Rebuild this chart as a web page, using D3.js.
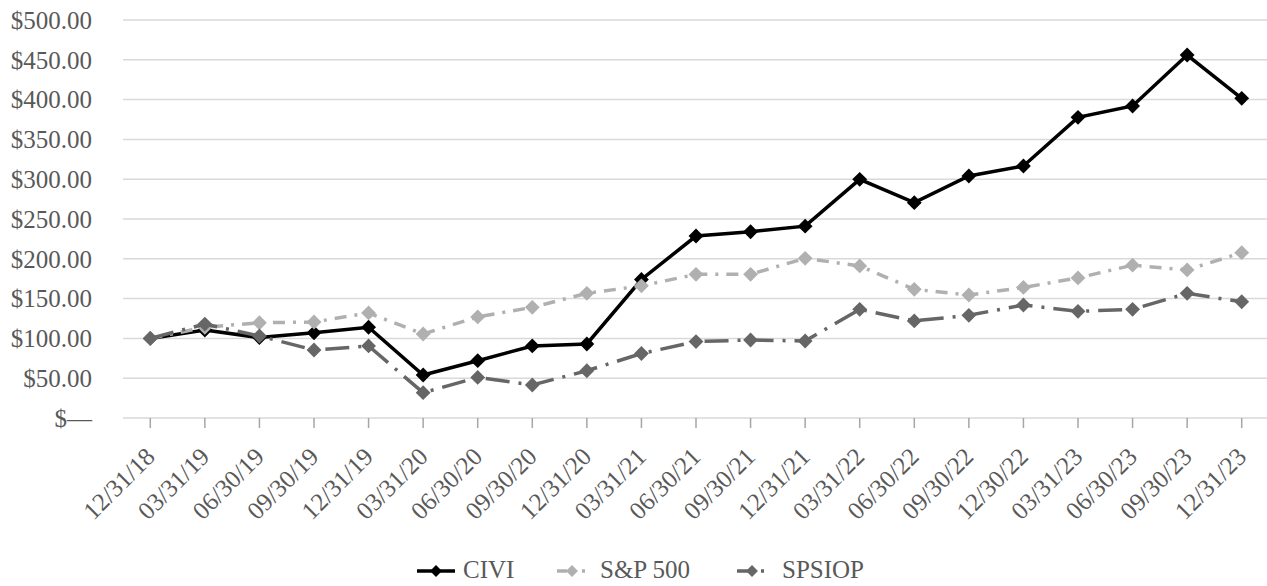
<!DOCTYPE html>
<html>
    <head>
        <meta charset="utf-8">
        <script src="https://d3js.org/d3.v7.min.js"></script>
        <title>CIVI total return</title>
    </head>
    <body>
        <div id="my_dataviz"></div>
    </body>
    <style>
        body {
            margin: 0;
            background: #fff;
            font-family: "Liberation Serif", "Times New Roman", serif;
        }
    </style>
    <script>
        // quarter-end dates on the x axis
        var dates = ["12/31/18", "03/31/19", "06/30/19", "09/30/19", "12/31/19", "03/31/20",
                     "06/30/20", "09/30/20", "12/31/20", "03/31/21", "06/30/21", "09/30/21",
                     "12/31/21", "03/31/22", "06/30/22", "09/30/22", "12/30/22", "03/31/23",
                     "06/30/23", "09/30/23", "12/31/23"];

        // values of $100 invested
        var civi   = [100, 110.5, 101, 107, 114, 54, 72, 90.5, 93, 174, 228.6, 234, 241, 299.8,
                      270.5, 304, 316.6, 377.7, 392, 456, 401.6];
        var sp500  = [100, 114, 119.7, 120.6, 132, 105.5, 127, 139, 156.6, 166, 180.5, 180.5,
                      200.6, 191, 161.7, 154.5, 164, 176, 192, 186, 207.7];
        var spsiop = [100, 118, 103, 85.4, 90.5, 31.8, 51, 41.5, 59.4, 81, 96, 98, 96.7, 136.5,
                      122, 129, 142, 134, 136.5, 156.6, 146];

        var seriesNames = ["CIVI", "S&P 500", "SPSIOP"];
        var yTicks = [0, 50, 100, 150, 200, 250, 300, 350, 400, 450, 500];

        var series = [
            {name: seriesNames[0], values: civi,   color: "#000000", dash: null,        width: 3.5},
            {name: seriesNames[1], values: sp500,  color: "#b0b0b0", dash: "12,8,3,8", width: 3.5},
            {name: seriesNames[2], values: spsiop, color: "#666666", dash: "24,9,3,9", width: 3.5}
        ];

        var W = 1267, H = 586;
        var margin = {top: 20, right: 0, bottom: 168, left: 123};

        var svg = d3.select("#my_dataviz")
            .append("svg")
            .attr("width", W)
            .attr("height", H);

        var x = d3.scaleBand()
            .domain(dates)
            .range([margin.left, 1269]);

        var y = d3.scaleLinear()
            .domain([0, 500])
            .range([H - margin.bottom, margin.top]);

        // gridlines
        svg.append("g")
            .selectAll("line")
            .data(yTicks)
            .enter()
            .append("line")
            .attr("x1", margin.left)
            .attr("x2", W)
            .attr("y1", function (d) { return y(d); })
            .attr("y2", function (d) { return y(d); })
            .attr("stroke", "#d9d9d9")
            .attr("stroke-width", 1.5);

        // y axis labels
        var yAxis = svg.append("g")
            .attr("transform", "translate(92,0)")
            .call(d3.axisLeft(y).tickValues(yTicks).tickSize(0).tickPadding(0)
                .tickFormat(function (d) { return d === 0 ? "$\u2014" : "$" + d3.format(".2f")(d); }));
        yAxis.select(".domain").remove();
        yAxis.selectAll("text")
            .attr("fill", "#595959")
            .style("font-family", "'Liberation Serif', serif")
            .style("font-size", "25px")
            .attr("dy", "0.33em");

        // x axis
        var xAxis = svg.append("g")
            .attr("transform", "translate(0," + y(0) + ")")
            .call(d3.axisBottom(x).tickSize(10).tickPadding(4));
        xAxis.select(".domain").remove();
        xAxis.selectAll(".tick line")
            .attr("stroke", "#a6a6a6")
            .attr("stroke-width", 1.5);
        xAxis.selectAll("text")
            .attr("fill", "#595959")
            .style("font-family", "'Liberation Serif', serif")
            .style("font-size", "25px")
            .attr("text-anchor", "end")
            .attr("dy", "0.35em")
            .attr("transform", "translate(-10,24) rotate(-45)");

        var line = d3.line()
            .x(function (d, i) { return x(dates[i]) + x.bandwidth() / 2; })
            .y(function (d) { return y(d); });

        var diamond = d3.symbol().type(d3.symbolDiamond2).size(140);

        series.forEach(function (s) {
            var g = svg.append("g");
            g.append("path")
                .datum(s.values)
                .attr("fill", "none")
                .attr("stroke", s.color)
                .attr("stroke-width", s.width)
                .attr("stroke-dasharray", s.dash)
                .attr("d", line);
            g.selectAll("path.pt")
                .data(s.values)
                .enter()
                .append("path")
                .attr("class", "pt")
                .attr("d", diamond)
                .attr("fill", s.color)
                .attr("transform", function (d, i) {
                    return "translate(" + (x(dates[i]) + x.bandwidth() / 2) + "," + y(d) + ")";
                });
        });

        // legend
        var legendX = [417, 557, 737];
        var legendLen = [38, 28, 30];
        var legendDash = [null, "10,6,3,6", "18,6,3,6"];
        var legendY = 571;
        series.forEach(function (s, i) {
            var g = svg.append("g").attr("transform", "translate(" + legendX[i] + "," + legendY + ")");
            g.append("line")
                .attr("x1", 0).attr("x2", legendLen[i])
                .attr("stroke", s.color)
                .attr("stroke-width", s.width)
                .attr("stroke-dasharray", legendDash[i]);
            g.append("path")
                .attr("d", d3.symbol().type(d3.symbolDiamond2).size(90))
                .attr("fill", s.color)
                .attr("transform", "translate(" + (i === 0 ? 19 : 15) + ",0)");
            g.append("text")
                .attr("x", i === 0 ? 46 : (i === 1 ? 43 : 45))
                .attr("y", 7)
                .attr("fill", "#595959")
                .style("font-size", "25px")
                .text(s.name);
        });
    </script>
</html>
